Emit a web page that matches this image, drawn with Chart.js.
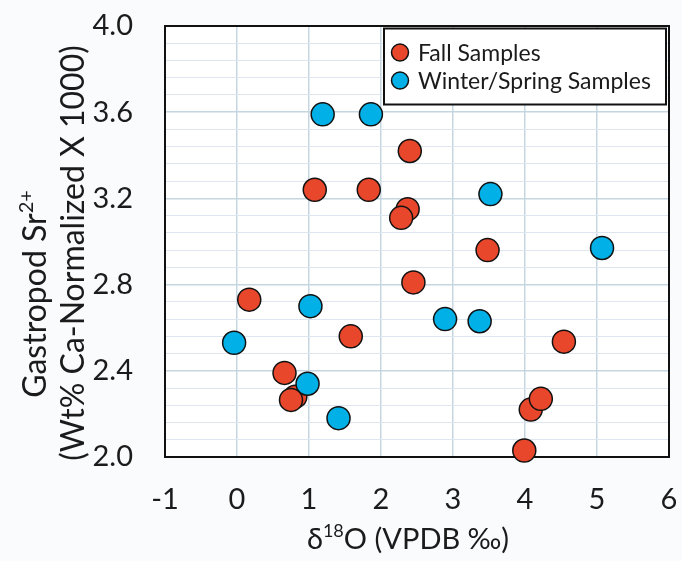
<!DOCTYPE html>
<html>
<head>
<meta charset="utf-8">
<script src="https://cdn.jsdelivr.net/npm/chart.js@4.4.1/dist/chart.umd.min.js"></script>
<style>
  html, body { margin: 0; background: #fafbfd; }
  canvas { display: block; }
</style>
</head>
<body>
<canvas id="chart" width="682" height="561"></canvas>
<script>
// ── data ──
const seriesNames = ['Fall Samples', 'Winter/Spring Samples'];

const fallX = [2.40, 1.08, 1.83, 2.37, 2.28, 3.48, 2.45, 0.17, 1.58, 4.54, 0.66, 0.81, 0.75, 4.08, 4.22, 3.99];
const fallY = [3.42, 3.24, 3.24, 3.15, 3.11, 2.96, 2.81, 2.73, 2.56, 2.535, 2.39, 2.28, 2.265, 2.22, 2.27, 2.03];

const winterX = [1.19, 1.86, 3.52, 5.07, 1.02, 2.89, 3.37, -0.04, 0.98, 1.41];
const winterY = [3.59, 3.59, 3.22, 2.97, 2.70, 2.64, 2.63, 2.53, 2.34, 2.18];

const xTicks = [-1, 0, 1, 2, 3, 4, 5, 6];
const yMajorTicks = [2.0, 2.4, 2.8, 3.2, 3.6, 4.0];
const yTickLabels = ['2.0', '2.4', '2.8', '3.2', '3.6', '4.0'];
const yMinorStep = 0.08;

// ── style ──
const FONT = 'Lato, "Open Sans", sans-serif';
const TEXT = '#1b1b1b';
const RED = '#e8472b';
const BLUE = '#00b0e6';
const GRID_MAJOR = '#c6d6e1';
const GRID_MINOR = '#dde6ee';

const toPoints = (xs, ys) => xs.map((x, i) => ({ x, y: ys[i] }));
const isMajorY = v => yMajorTicks.some(t => Math.abs(t - v) < 1e-6);

// keep the plot box where the figure has it (no label overhang padding)
const noPad = s => { s.paddingTop = s.paddingBottom = s.paddingLeft = s.paddingRight = 0; };

function drawRich(ctx, parts, cx, cy, size, rot) {
  ctx.save();
  ctx.translate(cx, cy);
  ctx.rotate(rot);
  ctx.fillStyle = TEXT;
  ctx.textBaseline = 'alphabetic';
  ctx.textAlign = 'left';
  const fonts = parts.map(p => `${p.sup ? Math.round(size * 0.62) : size}px ${FONT}`);
  let total = 0;
  const widths = parts.map((p, i) => { ctx.font = fonts[i]; const w = ctx.measureText(p.t).width; total += w; return w; });
  let x = -total / 2;
  const base = size * 0.36;
  parts.forEach((p, i) => {
    ctx.font = fonts[i];
    ctx.fillText(p.t, x, p.sup ? base - size * 0.42 : base);
    x += widths[i];
  });
  ctx.restore();
}

const plotFrame = {
  id: 'plotFrame',
  beforeDraw(chart) {
    const { ctx, chartArea: a } = chart;
    ctx.save();
    ctx.fillStyle = '#ffffff';
    ctx.fillRect(a.left, a.top, a.right - a.left, a.bottom - a.top);
    ctx.restore();
  },
  beforeDatasetsDraw(chart) {
    const { ctx, chartArea: a } = chart;
    ctx.save();
    ctx.strokeStyle = '#111';
    ctx.lineWidth = 2;
    ctx.strokeRect(a.left, a.top, a.right - a.left, a.bottom - a.top);
    ctx.restore();
  }
};

const boxLegend = {
  id: 'boxLegend',
  afterDatasetsDraw(chart) {
    const { ctx, chartArea: a } = chart;
    const right = a.right - 3, top = a.top + 2.5;
    const w = 282, h = 76;
    ctx.save();
    ctx.fillStyle = '#ffffff';
    ctx.fillRect(right - w, top, w, h);
    ctx.strokeStyle = '#111';
    ctx.lineWidth = 2;
    ctx.strokeRect(right - w, top, w, h);
    ctx.font = `23px ${FONT}`;
    ctx.textBaseline = 'middle';
    chart.data.datasets.forEach((ds, i) => {
      const y = top + 24 + i * 28;
      ctx.beginPath();
      ctx.arc(right - w + 16, y, 8.5, 0, Math.PI * 2);
      ctx.fillStyle = ds.backgroundColor;
      ctx.fill();
      ctx.lineWidth = 1.5;
      ctx.strokeStyle = '#111';
      ctx.stroke();
      ctx.fillStyle = TEXT;
      ctx.fillText(ds.label, right - w + 34, y + 1);
    });
    ctx.restore();
  }
};

const axisTitles = {
  id: 'axisTitles',
  afterDraw(chart) {
    const { ctx } = chart;
    drawRich(ctx, [{ t: 'δ' }, { t: '18', sup: true }, { t: 'O (VPDB ‰)' }], 408, 539, 29, 0);
    drawRich(ctx, [{ t: 'Gastropod Sr' }, { t: '2+', sup: true }], 34.5, 294, 32, -Math.PI / 2);
    drawRich(ctx, [{ t: '(Wt% Ca-Normalized X 1000)' }], 72.5, 253, 32, -Math.PI / 2);
  }
};

new Chart(document.getElementById('chart'), {
  type: 'scatter',
  data: {
    datasets: [
      { label: seriesNames[0], data: toPoints(fallX, fallY), backgroundColor: RED, order: 1 },
      { label: seriesNames[1], data: toPoints(winterX, winterY), backgroundColor: BLUE, order: 0 }
    ].map(ds => ({ ...ds, borderColor: '#111', borderWidth: 1.5, pointRadius: 11.5, pointHoverRadius: 11.5, clip: false }))
  },
  options: {
    responsive: false,
    devicePixelRatio: 1,
    animation: false,
    layout: { padding: { left: 0, right: 10, top: 26, bottom: 0 } },
    plugins: { legend: { display: false }, tooltip: { enabled: false } },
    scales: {
      x: {
        type: 'linear',
        min: xTicks[0], max: xTicks[xTicks.length - 1],
        afterBuildTicks: s => { s.ticks = xTicks.map(v => ({ value: v })); },
        afterFit: s => { s.height = 104; noPad(s); },
        border: { display: false },
        grid: { color: GRID_MAJOR, lineWidth: 1.5, drawTicks: false },
        ticks: { autoSkip: false, maxRotation: 0, padding: 25, color: TEXT, font: { family: FONT, size: 29 }, callback: v => String(v) }
      },
      y: {
        type: 'linear',
        min: yMajorTicks[0], max: yMajorTicks[yMajorTicks.length - 1],
        afterFit: s => { s.width = 165; noPad(s); },
        border: { display: false },
        grid: {
          color: c => isMajorY(c.tick.value) ? GRID_MAJOR : GRID_MINOR,
          lineWidth: c => isMajorY(c.tick.value) ? 1.5 : 1,
          drawTicks: false
        },
        ticks: {
          stepSize: yMinorStep,
          autoSkip: false,
          padding: 32,
          color: TEXT,
          font: { family: FONT, size: 29 },
          callback: v => {
            const i = yMajorTicks.findIndex(t => Math.abs(t - v) < 1e-6);
            return i >= 0 ? yTickLabels[i] : '';
          }
        }
      }
    }
  },
  plugins: [plotFrame, boxLegend, axisTitles]
});
</script>
</body>
</html>
